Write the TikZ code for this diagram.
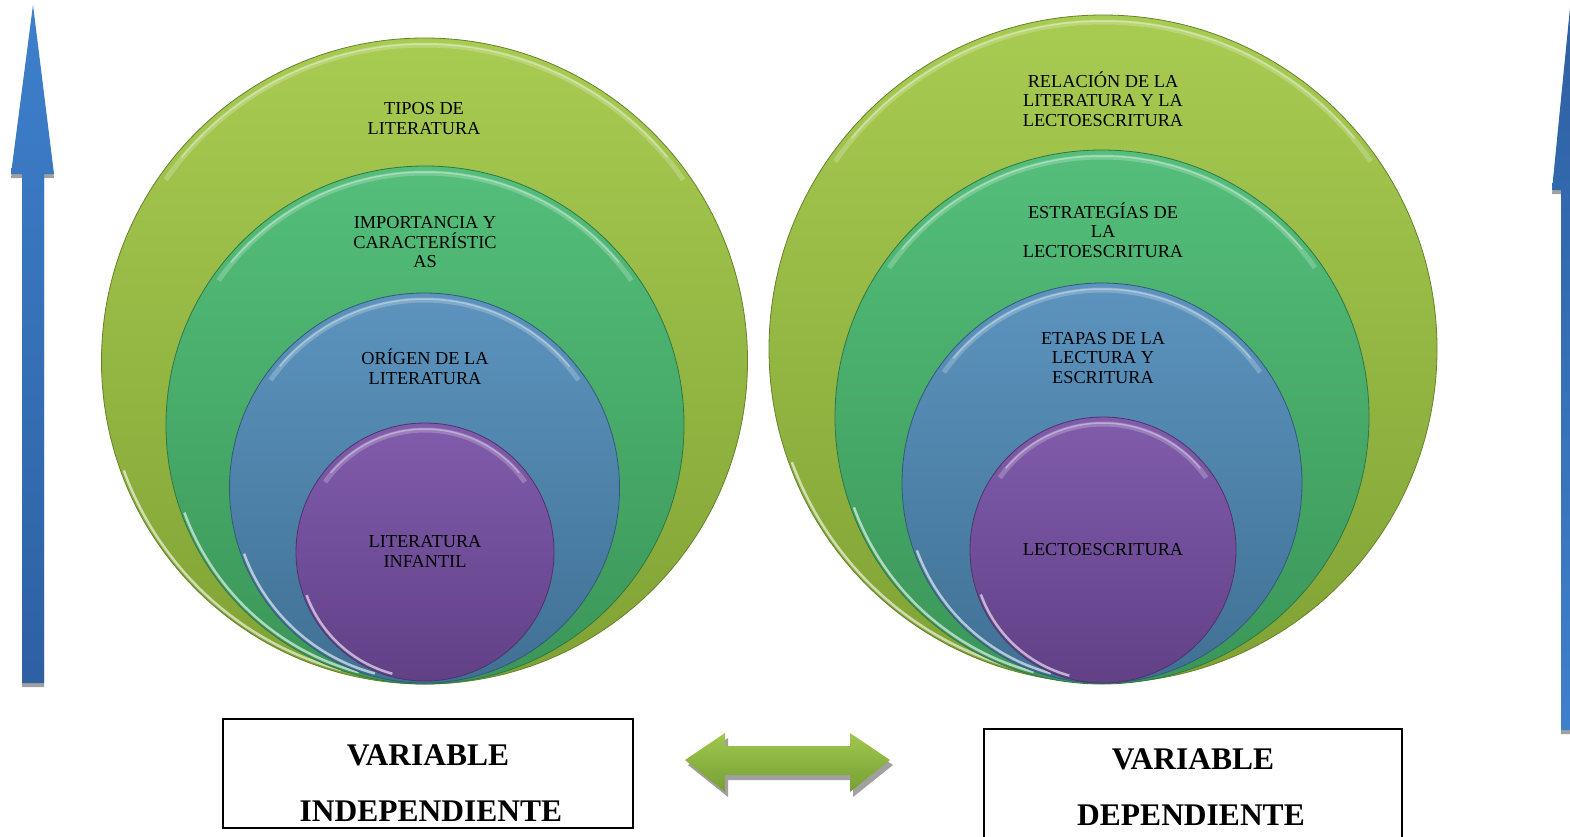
\documentclass[tikz,border=0pt]{standalone}
\usepackage{fontspec}
\setmainfont{Liberation Serif}
\definecolor{gAtop}{RGB}{168,203,82}
\definecolor{gAbot}{RGB}{128,162,52}
\definecolor{gBtop}{RGB}{84,190,122}
\definecolor{gBbot}{RGB}{58,150,88}
\definecolor{bCtop}{RGB}{92,148,190}
\definecolor{bCbot}{RGB}{64,112,148}
\definecolor{pDtop}{RGB}{128,92,172}
\definecolor{pDbot}{RGB}{98,64,134}
\definecolor{arrBlueA}{RGB}{62,128,204}
\definecolor{arrBlueB}{RGB}{46,96,162}
\definecolor{dblTop}{RGB}{160,200,78}
\definecolor{dblBot}{RGB}{118,158,52}
\definecolor{shadowgray}{RGB}{160,160,160}
\newcommand\ringshine[2]{%
  \draw[white,opacity=.22,line width=5pt] ([shift={(145:#2pt-7pt)}]#1.center) arc[start angle=145,end angle=35,radius=#2pt-7pt];
  \draw[white,opacity=.35,line width=1.5pt] ([shift={(140:#2pt-6pt)}]#1.center) arc[start angle=140,end angle=40,radius=#2pt-6pt];
  \draw[white,opacity=.6,line width=2.5pt] ([shift={(200:#2pt-3pt)}]#1.center) arc[start angle=200,end angle=255,radius=#2pt-3pt];
}
\tikzset{
  ring/.style={circle,inner sep=0pt,line width=0.8pt},
  lbl/.style={align=center,text=black,font=\fontsize{18.3}{19.5}\selectfont},
  vbox/.style={draw=black,line width=1.4pt,inner sep=0pt,fill=white},
  vtext/.style={anchor=base,font=\fontsize{31.5}{36}\selectfont\bfseries},
}
\begin{document}
\begin{tikzpicture}[x=1pt,y=-1pt]
\useasboundingbox (0,0) rectangle (1570,836);
\clip (0,0) rectangle (1570,836);
\fill[white] (0,0) rectangle (1570,836);

% left blue arrow
\fill[shadowgray] (33,9) -- (54,178) -- (44,178) -- (44,687) -- (22,687) -- (22,178) -- (11,178) -- cycle;
\shade[top color=arrBlueA,bottom color=arrBlueB] (33,5) -- (54,174) -- (44,174) -- (44,683) -- (22,683) -- (22,174) -- (11,174) -- cycle;

% right blue arrow (cut by page edge)
\fill[shadowgray] (1570,12) -- (1588,194) -- (1579,194) -- (1579,734) -- (1561,734) -- (1561,194) -- (1552,194) -- cycle;
\shade[top color=arrBlueB,bottom color=arrBlueA] (1570,8) -- (1588,190) -- (1579,190) -- (1579,730) -- (1561,730) -- (1561,190) -- (1552,190) -- cycle;

% left circles
\node[ring,draw=gAbot!80!black,minimum size=646pt,top color=gAtop,bottom color=gAbot] (L1) at (424.5,361) {};
\ringshine{L1}{323}
\node[ring,draw=gBbot!80!black,minimum size=518pt,top color=gBtop,bottom color=gBbot] (L2) at (425,425) {};
\ringshine{L2}{259}
\node[ring,draw=bCbot!80!black,minimum size=390pt,top color=bCtop,bottom color=bCbot] (L3) at (424.5,488) {};
\ringshine{L3}{195}
\node[ring,draw=pDbot!80!black,minimum size=258pt,top color=pDtop,bottom color=pDbot] (L4) at (425,552) {};
\ringshine{L4}{129}

% right circles
\node[ring,draw=gAbot!80!black,minimum size=668pt,top color=gAtop,bottom color=gAbot] (R1) at (1103,349) {};
\ringshine{R1}{334}
\node[ring,draw=gBbot!80!black,minimum size=534pt,top color=gBtop,bottom color=gBbot] (R2) at (1102,417) {};
\ringshine{R2}{267}
\node[ring,draw=bCbot!80!black,minimum size=400pt,top color=bCtop,bottom color=bCbot] (R3) at (1102,483) {};
\ringshine{R3}{200}
\node[ring,draw=pDbot!80!black,minimum size=266pt,top color=pDtop,bottom color=pDbot] (R4) at (1103,550) {};
\ringshine{R4}{133}

% labels
\node[lbl] (tL1) at (424,118.5) {TIPOS DE\\LITERATURA};
\node[lbl] (tL2) at (425,242.5) {IMPORTANCIA Y\\CARACTERÍSTIC\\AS};
\node[lbl] (tL3) at (425,366.5) {ORÍGEN DE LA\\LITERATURA};
\node[lbl] (tL4) at (425,551.5) {LITERATURA\\INFANTIL};
\node[lbl] (tR1) at (1103,99) {RELACIÓN DE LA\\LITERATURA Y LA\\LECTOESCRITURA};
\node[lbl] (tR2) at (1103,230) {ESTRATEGÍAS DE\\LA\\LECTOESCRITURA};
\node[lbl] (tR3) at (1103,358) {ETAPAS DE LA\\LECTURA Y\\ESCRITURA};
\node[lbl] (tR4) at (1103,550) {LECTOESCRITURA};

% double arrow
\fill[shadowgray] (688,765) -- (728,738) -- (728,751) -- (853,751) -- (853,738) -- (893,765) -- (853,797) -- (853,780) -- (728,780) -- (728,797) -- cycle;
\shade[top color=dblTop,bottom color=dblBot] (685,760) -- (725,733) -- (725,746) -- (850,746) -- (850,733) -- (890,760) -- (850,792) -- (850,775) -- (725,775) -- (725,792) -- cycle;

% variable boxes
\node[vbox,minimum width=410pt,minimum height=109pt] (VI) at (428,773.5) {};
\node[vtext] (VIa) at (428,765) {VARIABLE};
\node[vtext] (VIb) at (431,821) {INDEPENDIENTE};
\node[vbox,minimum width=418pt,minimum height=120pt] (VD) at (1193,789) {};
\node[vtext] (VDa) at (1193,769) {VARIABLE};
\node[vtext] (VDb) at (1191,825) {DEPENDIENTE};
\end{tikzpicture}
\end{document}
